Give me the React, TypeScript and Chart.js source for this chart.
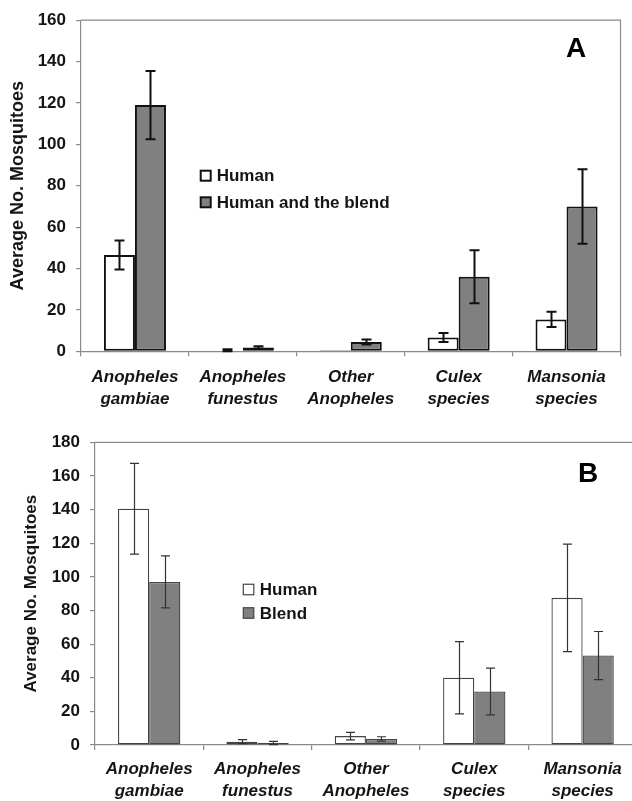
import React, { useEffect, useRef } from 'react';
import { Chart, registerables } from 'chart.js';
Chart.register(...registerables);

// ---- data ----
const categories = [
  ['Anopheles', 'gambiae'],
  ['Anopheles', 'funestus'],
  ['Other', 'Anopheles'],
  ['Culex', 'species'],
  ['Mansonia', 'species'],
];

const aLabels = ['Human', 'Human and the blend'];
const aHuman = [46.5, 0, 0.5, 6.7, 15.4];
const aHumanErr = [7, 1, 0, 2.2, 3.7];
const aBlend = [119, 1.8, 4.5, 36, 70];
const aBlendErr = [16.5, 0.6, 1.2, 12.8, 18];
const aMax = 160;

const bLabels = ['Human', 'Blend'];
const bHuman = [140.5, 2, 5.3, 40, 87.5];
const bHumanErr = [27, 1.2, 2.2, 21.5, 32];
const bBlend = [97, 1.2, 3.6, 31.8, 53.2];
const bBlendErr = [15.5, 1, 1.3, 13.9, 14.3];
const bMax = 180;

const yTitle = 'Average No. Mosquitoes';
const tickStep = 20;

const FONT = "'Liberation Sans', Arial, Helvetica, sans-serif";
const TEXT = '#151515';
const AXIS = '#8a8a8a';

const decor = {
  id: 'decor',
  afterDatasetsDraw(chart: any, _args: any, o: any) {
    const ctx = chart.ctx;
    const ys = chart.scales.y;
    const a = chart.chartArea;
    // error bars
    chart.data.datasets.forEach((ds: any, i: number) => {
      const meta = chart.getDatasetMeta(i);
      ctx.save();
      ctx.strokeStyle = o.errColor;
      ctx.lineWidth = o.errWidth;
      meta.data.forEach((el: any, j: number) => {
        const v = ds.data[j];
        const e = ds.errors[j];
        if (!e) return;
        const x = Math.round(el.x) + 0.5;
        const t = ys.getPixelForValue(v + e);
        const b = ys.getPixelForValue(Math.max(0, v - e));
        ctx.beginPath();
        ctx.moveTo(x, t);
        ctx.lineTo(x, b);
        ctx.moveTo(x - o.cap, t);
        ctx.lineTo(x + o.cap, t);
        ctx.moveTo(x - o.cap, b);
        ctx.lineTo(x + o.cap, b);
        ctx.stroke();
      });
      ctx.restore();
    });
    // frame (top and right)
    ctx.save();
    ctx.strokeStyle = AXIS;
    ctx.lineWidth = 1.2;
    ctx.beginPath();
    ctx.moveTo(a.left, a.top);
    ctx.lineTo(a.right, a.top);
    ctx.lineTo(a.right, a.bottom);
    ctx.stroke();
    ctx.restore();
    // legend
    ctx.save();
    ctx.font = `bold ${o.legendFont}px ${FONT}`;
    ctx.textBaseline = 'middle';
    ctx.textAlign = 'left';
    chart.data.datasets.forEach((ds: any, i: number) => {
      const cy = o.legendY[i];
      ctx.fillStyle = ds.backgroundColor;
      ctx.fillRect(o.legendX, cy - o.box / 2, o.box, o.box);
      ctx.strokeStyle = o.boxBorder;
      ctx.lineWidth = o.boxBorderWidth;
      ctx.strokeRect(o.legendX, cy - o.box / 2, o.box, o.box);
      ctx.fillStyle = TEXT;
      ctx.fillText(ds.label, o.legendX + o.box + 6, cy + 1);
    });
    // panel letter
    ctx.font = `bold ${o.letterFont}px ${FONT}`;
    ctx.textAlign = 'center';
    ctx.fillStyle = '#000';
    ctx.fillText(o.letter, o.letterX, o.letterY);
    ctx.restore();
  },
};

function makeConfig(p: any) {
  return {
    type: 'bar',
    data: {
      labels: categories,
      datasets: [
        {
          label: p.labels[0],
          data: p.human,
          errors: p.humanErr,
          backgroundColor: '#ffffff',
          borderColor: p.barBorder,
          borderWidth: p.barBorderWidth,
          borderSkipped: false,
          categoryPercentage: 0.575,
          barPercentage: 1,
        },
        {
          label: p.labels[1],
          data: p.blend,
          errors: p.blendErr,
          backgroundColor: '#808080',
          borderColor: p.barBorder,
          borderWidth: p.barBorderWidth,
          borderSkipped: false,
          categoryPercentage: 0.575,
          barPercentage: 1,
        },
      ],
    },
    options: {
      responsive: false,
      animation: false,
      devicePixelRatio: 1,
      layout: { padding: p.padding },
      plugins: {
        legend: { display: false },
        tooltip: { enabled: false },
        decor: p.decor,
      },
      scales: {
        x: {
          grid: { drawOnChartArea: false, drawTicks: true, tickLength: 5, color: AXIS, offset: true, lineWidth: 1.2 },
          border: { color: AXIS, width: 1.2 },
          ticks: {
            color: TEXT,
            padding: p.xPad,
            maxRotation: 0,
            autoSkip: false,
            font: { family: FONT, size: 17, weight: 'bold', style: 'italic', lineHeight: p.xLine },
          },
          afterFit: (s: any) => { s.height = p.xHeight; },
        },
        y: {
          min: 0,
          max: p.max,
          grid: { drawOnChartArea: false, drawTicks: true, tickLength: 5, color: AXIS, lineWidth: 1.2 },
          border: { color: AXIS, width: 1.2 },
          ticks: {
            stepSize: tickStep,
            color: TEXT,
            padding: 10,
            font: { family: FONT, size: 17, weight: 'bold' },
          },
          title: {
            display: true,
            text: yTitle,
            color: TEXT,
            padding: { top: p.titlePad, bottom: 0 },
            font: { family: FONT, size: p.titleSize, weight: 'bold' },
          },
          afterFit: (s: any) => { s.width = p.yWidth; },
        },
      },
    },
    plugins: [decor],
  } as any;
}

function Panel(props: any) {
  const ref = useRef<HTMLCanvasElement>(null);
  useEffect(() => {
    const c = new Chart(ref.current as HTMLCanvasElement, makeConfig(props.cfg));
    return () => c.destroy();
  }, []);
  return (
    <canvas
      ref={ref}
      width={props.w}
      height={props.h}
      style={{ position: 'absolute', left: 0, top: props.top, width: props.w, height: props.h }}
    />
  );
}

const panelA = {
  labels: aLabels, human: aHuman, humanErr: aHumanErr, blend: aBlend, blendErr: aBlendErr, max: aMax,
  barBorder: '#111111', barBorderWidth: 2,
  padding: { top: 16, right: 11.5, left: 0, bottom: 0 },
  xHeight: 68.7, yWidth: 81, xPad: 10, xLine: 1.31, titlePad: 7, titleSize: 18,
  decor: {
    errColor: '#111111', errWidth: 2, cap: 5,
    legendFont: 17, legendX: 200.7, legendY: [175.7, 202.3], box: 10, boxBorder: '#111', boxBorderWidth: 2,
    letter: 'A', letterFont: 28, letterX: 576, letterY: 49,
  },
};

const panelB = {
  labels: bLabels, human: bHuman, humanErr: bHumanErr, blend: bBlend, blendErr: bBlendErr, max: bMax,
  barBorder: '#444444', barBorderWidth: 1.3,
  padding: { top: 32.3, right: 23.2, left: 0, bottom: 0 },
  xHeight: 56, yWidth: 95, xPad: 9, xLine: 1.26, titlePad: 21.5, titleSize: 17,
  decor: {
    errColor: '#333333', errWidth: 1.2, cap: 4.5,
    legendFont: 17, legendX: 243.3, legendY: [589.5 - 410, 613 - 410], box: 10.5, boxBorder: '#444', boxBorderWidth: 1.2,
    letter: 'B', letterFont: 28, letterX: 588, letterY: 474 - 410,
  },
};

export default function App() {
  return (
    <div style={{ position: 'absolute', left: 0, top: 0, width: 632, height: 801, overflow: 'hidden', background: '#fff' }}>
      <Panel cfg={panelA} w={632} h={420} top={0} />
      <Panel cfg={panelB} w={660} h={391} top={410} />
    </div>
  );
}
